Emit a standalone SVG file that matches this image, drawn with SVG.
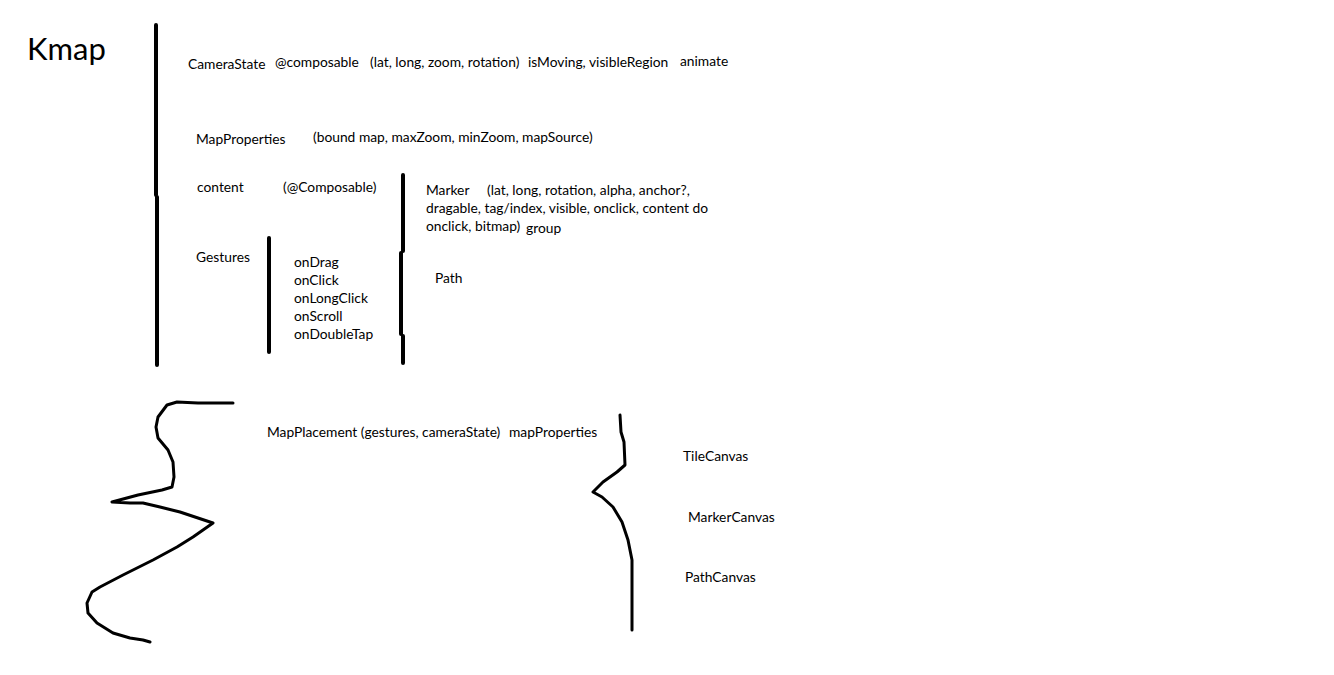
<svg xmlns="http://www.w3.org/2000/svg" width="1334" height="675" viewBox="0 0 1334 675">
  <style>
    text { font-family: Lato, "Open Sans", "Liberation Sans", sans-serif; font-size: 13.8px; fill: #000; }
    .title { font-size: 31px; }
    .stroke { fill: none; stroke: #000; stroke-width: 4; stroke-linecap: round; stroke-linejoin: round; }
    .pen { fill: none; stroke: #000; stroke-width: 3; stroke-linecap: round; stroke-linejoin: round; }
  </style>
  <rect width="1334" height="675" fill="#fff"/>

  <text class="title" x="27" y="60">Kmap</text>

  <!-- hand-drawn dividers and braces -->
  <g id="connectors">
    <path class="stroke" d="M156 25 V195 M157 197 V365"/>
    <path class="stroke" d="M269 238 V352"/>
    <path class="stroke" d="M403 175 V251 M401 253 V334 M403 336 V363"/>
    <path class="pen" d="M233 403 L198 403 L177 402 L167 405 L158 417 L156 427 L158 438 L168 450 L173 462 L174 477 L172 487 L162 490 L138 495 L112 502 L130 503 L143 503 L160 507 L180 512 L213 523 L203 530 L193 537 L177 547 L153 560 L123 575 L100 587 L92 592 L87 603 L88 613 L97 623 L113 633 L130 638 L143 640 L150 642"/>
    <path class="pen" d="M620 415 L621 432 L624 442 L625 465 L617 472 L603 482 L593 492 L602 497 L613 507 L622 522 L628 540 L632 560 L632 630"/>
  </g>

  <g id="camera-state">
    <text x="188" y="69">CameraState</text>
    <text x="275" y="67">@composable</text>
    <text x="370" y="67">(lat, long, zoom, rotation)</text>
    <text x="528" y="67">isMoving, visibleRegion</text>
    <text x="680" y="66">animate</text>
  </g>

  <g id="map-properties">
    <text x="196" y="144">MapProperties</text>
    <text x="313" y="142">(bound map, maxZoom, minZoom, mapSource)</text>
  </g>

  <g id="content">
    <text x="197" y="192">content</text>
    <text x="283" y="192">(@Composable)</text>
  </g>

  <g id="marker">
    <text x="426" y="195">Marker</text>
    <text x="487" y="195">(lat, long, rotation, alpha, anchor?,</text>
    <text x="426" y="213">dragable, tag/index, visible, onclick, content do</text>
    <text x="426" y="231">onclick, bitmap)</text>
    <text x="526" y="233">group</text>
  </g>

  <g id="gestures">
    <text x="196" y="262">Gestures</text>
    <text x="294" y="267">onDrag</text>
    <text x="294" y="285">onClick</text>
    <text x="294" y="303">onLongClick</text>
    <text x="294" y="321">onScroll</text>
    <text x="294" y="339">onDoubleTap</text>
  </g>

  <g id="path">
    <text x="435" y="283">Path</text>
  </g>

  <g id="map-placement">
    <text x="267" y="437">MapPlacement (gestures, cameraState)</text>
    <text x="509" y="437">mapProperties</text>
  </g>

  <g id="canvases">
    <text x="683" y="461">TileCanvas</text>
    <text x="688" y="522">MarkerCanvas</text>
    <text x="685" y="582">PathCanvas</text>
  </g>
</svg>
